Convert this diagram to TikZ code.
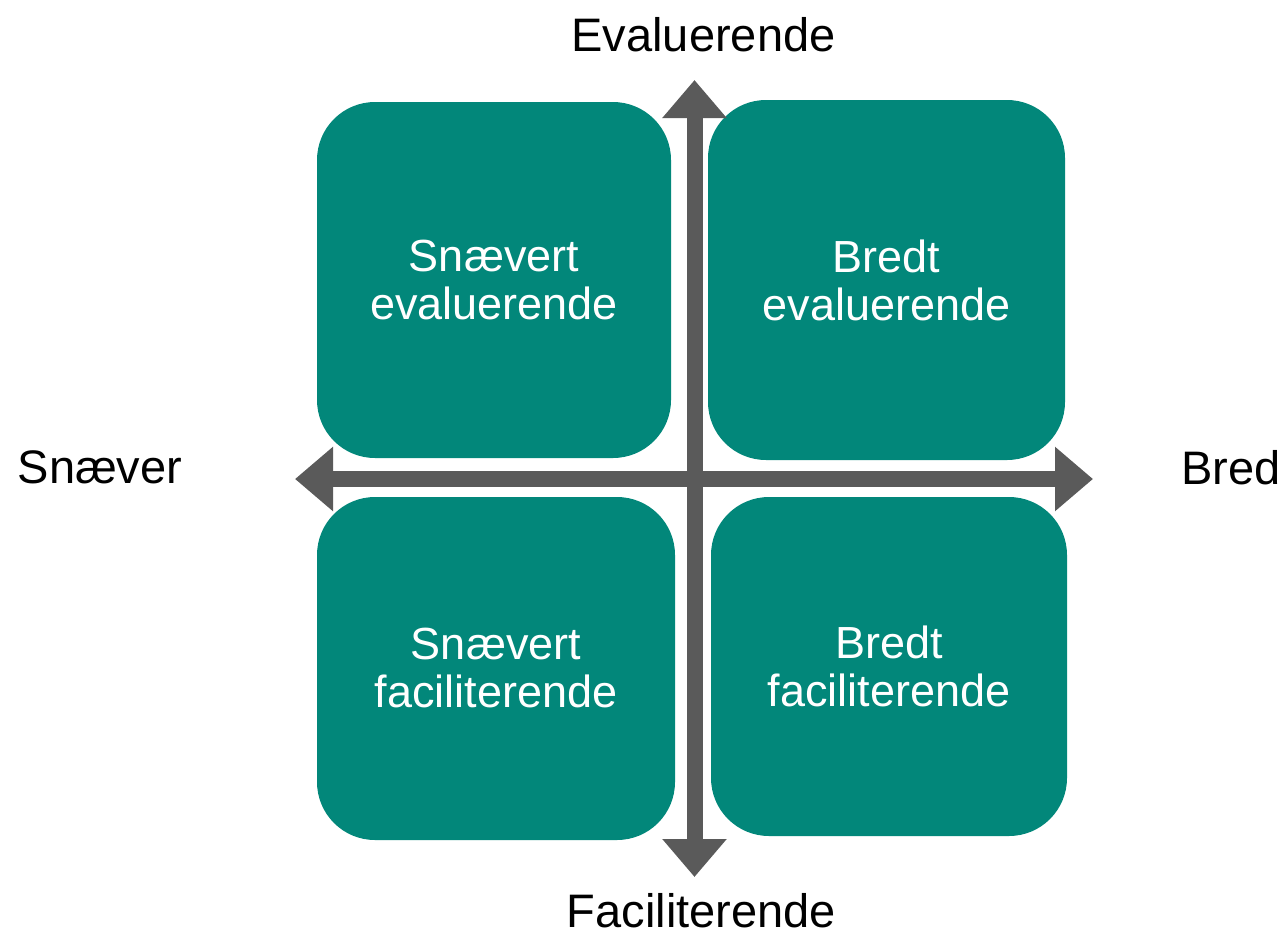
\documentclass[tikz,border=0pt]{standalone}
\usepackage{fontspec}
\setmainfont{Liberation Sans}
\usepackage{tikz}
\usepackage{xcolor}
\usetikzlibrary{arrows.meta}
\definecolor{quadteal}{HTML}{02877A}
\definecolor{axisgray}{HTML}{5A5A5A}
\begin{document}
\begin{tikzpicture}[x=1pt,y=-1pt,
  quadrant/.style={fill=quadteal,rounded corners=58pt,inner sep=0pt,align=center,
    text=white,font=\fontsize{45}{48}\selectfont},
  axislabel/.style={anchor=base,inner sep=0pt,font=\fontsize{47}{52}\selectfont},
  axisarrow/.style={axisgray,line width=16pt,
    {Triangle[length=38pt,width=62pt]}-{Triangle[length=38pt,width=62pt]}}]
\useasboundingbox (0,0) rectangle (1286,940);
% quadrants
\node [quadrant,minimum width=354pt,minimum height=356pt] (snevaluer) at (494,280) {Snævert\\evaluerende};
\node [quadrant,minimum width=357pt,minimum height=360pt] (bredevaluer) at (886.5,280) {Bredt\\evaluerende};
\node [quadrant,minimum width=358pt,minimum height=343pt] (snfacil) at (496,668.5) {Snævert\\faciliterende};
\node [quadrant,minimum width=356pt,minimum height=339pt] (bredfacil) at (889,666.5) {Bredt\\faciliterende};
% axes
\coordinate (west) at (295,479);
\coordinate (east) at (1093,479);
\coordinate (north) at (694.5,80);
\coordinate (south) at (694.5,877);
\draw [axisarrow] (west) -- (east);
\draw [axisarrow] (north) -- (south);
% axis labels
\node [axislabel] (evaluer) at (703.5,51) {Evaluerende};
\node [axislabel] (facil) at (701.5,927) {Faciliterende};
\node [axislabel] (snaever) at (100,483) {Snæver};
\node [axislabel] (bred) at (1231,484) {Bred};
\end{tikzpicture}
\end{document}
